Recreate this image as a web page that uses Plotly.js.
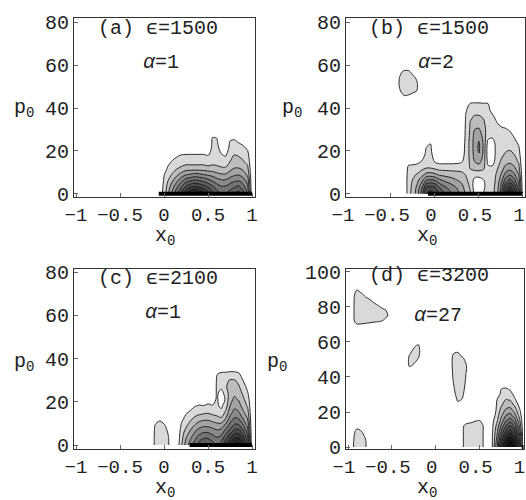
<!DOCTYPE html>
<html><head><meta charset="utf-8">
<script src="https://cdn.plot.ly/plotly-3.0.1.min.js"></script>
<style>body{margin:0;background:#fff}#c{width:526px;height:500px}</style>
</head><body><div id="c"></div>
<script>
// ---------- shared ----------
const xTickVals = [-1, -0.5, 0, 0.5, 1];
const xTickText = ["\u22121", "\u22120.5", "0", "0.5", "1"];
const yTicks80 = [0, 20, 40, 60, 80];
const yTicks100 = [0, 20, 40, 60, 80, 100];
const bandGrays = ['#d9d9d9','#bdbdbd','#a3a3a3','#8a8a8a','#737373','#5e5e5e','#4a4a4a','#383838','#282828','#1a1a1a','#0e0e0e','#050505'];

// ---------- panel (a): eps=1500, alpha=1 ----------
const aX = [-0.05,0,0.05,0.1,0.15,0.2,0.25,0.3,0.35,0.4,0.45,0.5,0.55,0.6,0.65,0.7,0.75,0.8,0.85,0.9,0.95,1.0];
const aP = [0,3,6,9,12,15,18,21,24,27,30];
const aZ = [
 [0.5,0.3,0,0,0,0,0,0,0,0,0],
 [1.3,1.25,1.15,0.95,0.6,0.2,0,0,0,0,0],
 [3,2.6,2.1,1.5,1.15,0.8,0.3,0,0,0,0],
 [4.5,3.8,3.0,2.2,1.5,1.1,0.7,0.1,0,0,0],
 [6,5,3.9,2.8,1.9,1.3,0.9,0.2,0,0,0],
 [7.5,6.2,4.8,3.4,2.2,1.5,1.05,0.3,0,0,0],
 [9,7.3,5.6,3.9,2.4,1.6,1.1,0.3,0,0,0],
 [10,8,6,4.1,2.4,1.6,1.1,0.3,0,0,0],
 [10.5,8.3,6.3,4.3,2.4,1.6,1.1,0.3,0,0,0],
 [10,8,6.1,4.2,2.4,1.6,1.1,0.3,0,0,0],
 [9.5,7.6,5.8,4.0,2.4,1.6,1.1,0.3,0,0,0],
 [8.5,7,5.4,3.8,2.3,1.4,0.95,0.3,0,0,0],
 [7.5,6.3,5,3.6,2.3,1.7,1.4,1.25,1.15,0.95,0],
 [6.5,5.6,4.5,3.3,2.2,1.7,1.45,1.3,1.15,0.9,0],
 [6,5.2,4.2,3.1,2.1,1.5,1.1,0.7,0.3,0,0],
 [6,5.2,4.2,3.1,2.1,1.4,0.9,0.4,0,0,0],
 [6.5,5.6,4.6,3.5,2.6,2.0,1.6,1.3,1.1,0.6,0],
 [7,6,4.9,3.8,3.0,2.4,2.05,1.6,1.2,0.7,0],
 [7.5,6.3,5,3.9,3.0,2.4,1.9,1.5,0.95,0.5,0],
 [6.5,5.5,4.5,3.5,2.7,2.1,1.6,1.2,0.8,0.2,0],
 [5,4.3,3.6,2.8,2.2,1.7,1.3,0.9,0.5,0,0],
 [0,0,0,0,0,0,0,0,0,0,0]
];
const barAX = [-0.06, 1.0];

// ---------- panel (b): eps=1500, alpha=2 ----------
const bX = [-0.35,-0.3,-0.25,-0.2,-0.15,-0.1,-0.05,0,0.05,0.1,0.15,0.2,0.25,0.3,0.35,0.4,0.45,0.5,0.55,0.6,0.65,0.7,0.75,0.8,0.85,0.9,0.95,1.0];
const bP = [0,3,6,9,12,15,18,21,24,27,30,33,36,39,42,45];
const bZ = [
 [0,0,0,0,0,0,0,0,0,0,0,0,0,0,0,0],
 [1.6,1.6,1.6,1.5,1.3,0.6,0,0,0,0,0,0,0,0,0,0],
 [2.4,2.3,2.1,1.8,1.3,0.7,0.2,0,0,0,0,0,0,0,0,0],
 [3.6,3.3,2.8,2.1,1.4,0.8,0.3,0,0,0,0,0,0,0,0,0],
 [5.5,4.8,3.8,2.6,1.7,1.05,0.6,0.2,0,0,0,0,0,0,0,0],
 [8,7,5.2,3.3,2.0,1.4,1.2,1.05,0.8,0.2,0,0,0,0,0,0],
 [8.5,7.4,5.4,3.4,2.0,1.5,1.3,1.15,0.95,0.3,0,0,0,0,0,0],
 [8,7,5.2,3.2,1.8,0.9,0.5,0.2,0,0,0,0,0,0,0,0],
 [7,6.0,4.4,2.8,1.6,0.7,0.2,0,0,0,0,0,0,0,0,0],
 [6.2,5.3,4.0,2.7,1.6,0.7,0.2,0,0,0,0,0,0,0,0,0],
 [5.6,4.8,3.7,2.6,1.6,0.7,0.2,0,0,0,0,0,0,0,0,0],
 [5,4.4,3.4,2.5,1.6,0.7,0.2,0,0,0,0,0,0,0,0,0],
 [4.4,3.9,3.1,2.4,1.6,0.75,0.3,0,0,0,0,0,0,0,0,0],
 [3.8,3.4,2.8,2.3,1.6,0.9,0.6,0.4,0.2,0,0,0,0,0,0,0],
 [2.8,2.6,2.3,1.95,1.6,1.3,1.25,1.25,1.25,1.2,1.15,1.1,1.05,0.9,0.4,0],
 [2.1,1.9,1.6,1.7,2.05,2.2,2.3,2.3,2.3,2.2,2.1,2.05,1.8,1.4,1.05,0.3],
 [0.8,0.5,0.7,1.3,2.4,3.0,3.3,3.4,3.4,3.3,3.0,2.6,2.1,1.6,1.1,0.4],
 [0.7,0.4,0.6,1.3,2.5,3.3,3.9,4.2,4.1,3.6,3.1,2.6,2.1,1.6,1.1,0.4],
 [1.05,0.8,0.9,1.4,2.2,2.6,2.8,2.9,2.85,2.7,2.5,2.2,1.9,1.4,1.05,0.4],
 [1.5,1.4,1.4,1.4,1.2,0.8,0.55,0.5,0.8,1.3,1.5,1.5,1.4,1.2,1.05,0.4],
 [1.7,1.7,1.6,1.5,1.2,0.6,0.4,0.35,0.6,1.2,1.4,1.3,1.15,0.8,0.4,0],
 [2.4,2.3,2.2,2.1,1.8,1.4,1.3,1.3,1.3,1.3,1.2,1.05,0.8,0.4,0,0],
 [4.5,4.2,3.6,3.0,2.5,2.1,1.8,1.6,1.5,1.35,1.15,0.8,0.2,0,0,0],
 [8,7,5.5,4.3,3.3,2.6,2.15,1.8,1.6,1.4,1.1,0.6,0,0,0,0],
 [10,8.5,6.5,4.8,3.6,2.8,2.3,1.9,1.6,1.3,0.9,0.3,0,0,0,0],
 [8,7,5.5,4.2,3.2,2.5,2.05,1.6,1.3,0.9,0.4,0,0,0,0,0],
 [5,4.5,3.8,3.0,2.4,1.9,1.5,1.2,0.8,0.3,0,0,0,0,0,0],
 [0,0,0,0,0,0,0,0,0,0,0,0,0,0,0,0]
];
const bbX = [-0.45,-0.4,-0.35,-0.3,-0.25,-0.2,-0.15];
const bbP = [42,45,48,51,54,57,60];
const bbZ = [
 [0,0,0,0,0,0,0],
 [0,0,0.9,1.2,1.1,0.7,0],
 [0,0.8,1.5,1.7,1.6,1.2,0],
 [0,0.7,1.5,1.8,1.6,1.2,0],
 [0,0.3,1.3,1.5,1.3,0.6,0],
 [0,0,0.95,1.05,0.8,0,0],
 [0,0,0,0,0,0,0]
];
const barBX = [-0.08, 1.0];

// ---------- panel (c): eps=2100, alpha=1 ----------
const cX = [0.15,0.2,0.25,0.3,0.35,0.4,0.45,0.5,0.55,0.6,0.65,0.7,0.75,0.8,0.85,0.9,0.95,1.0];
const cP = [0,3,6,9,12,15,18,21,24,27,30,33,36];
const cZ = [
 [0.4,0.3,0.2,0,0,0,0,0,0,0,0,0,0],
 [1.9,1.7,1.5,1.2,0.8,0.4,0,0,0,0,0,0,0],
 [3.5,3,2.4,1.8,1.3,0.9,0.4,0,0,0,0,0,0],
 [4.5,3.9,3.2,2.5,1.8,1.15,0.7,0.2,0,0,0,0,0],
 [5.5,4.8,4.0,3.1,2.3,1.5,0.95,0.4,0,0,0,0,0],
 [6.5,5.6,4.6,3.6,2.6,1.7,1.1,0.5,0,0,0,0,0],
 [7,6,4.9,3.8,2.8,1.8,1.05,0.3,0,0,0,0,0],
 [7,6,4.9,3.8,2.8,1.9,1.2,0.6,0,0,0,0,0],
 [6.5,5.6,4.6,3.6,2.6,1.7,1.1,0.5,0,0,0,0,0],
 [6,5.2,4.3,3.4,2.4,1.6,1.2,1.15,1.15,1.15,1.1,0.95,0.3],
 [6.5,5.5,4.5,3.5,2.2,1.3,0.8,0.5,0.7,1.2,1.4,1.15,0.3],
 [8,6.8,5.5,4.3,3.1,2.2,1.5,1.1,1.3,1.9,1.8,1.2,0.3],
 [9.5,8,6.6,5.4,4.4,3.6,3.0,2.7,2.5,2.3,2.05,1.3,0.3],
 [10.5,9,7.5,6.2,5.2,4.4,3.7,3.2,2.8,2.4,2.05,1.3,0.3],
 [10.5,9.2,7.6,6.2,5.0,4.1,3.4,2.9,2.5,2.1,1.7,1.1,0.2],
 [9,7.8,6.4,5.1,4.0,3.2,2.6,2.2,1.8,1.4,0.95,0.5,0],
 [6,5.3,4.5,3.7,3.0,2.4,1.9,1.5,1.1,0.7,0.3,0,0],
 [0,0,0,0,0,0,0,0,0,0,0,0,0]
];
const cbX = [-0.15,-0.1,-0.05,0,0.05,0.1];
const cbP = [0,3,6,9,12,15];
const cbZ = [
 [0,0,0,0,0,0],
 [1.3,1.3,1.25,1.1,0.5,0],
 [1.6,1.6,1.5,1.35,0.85,0],
 [1.5,1.5,1.4,1.15,0.5,0],
 [1.1,1.05,0.9,0.6,0,0],
 [0,0,0,0,0,0]
];
const barCX = [0.29, 1.0];

// ---------- panel (d): eps=3200, alpha=27 ----------
const dX = [0.6,0.65,0.7,0.75,0.8,0.85,0.9,0.95,1.0];
const dP = [0,3,6,9,12,15,18,21,24,27,30,33,36];
const dZ = [
 [0,0,0,0,0,0,0,0,0,0,0,0,0],
 [1.1,1.1,1.1,1.05,0.95,0.8,0.4,0,0,0,0,0,0],
 [4,3.6,3.2,2.8,2.4,1.9,1.6,1.35,1.2,1.05,0.6,0.2,0],
 [8,7.2,6.2,5.2,4.3,3.5,2.9,2.4,1.9,1.5,1.25,1.05,0.4],
 [11,10,8.7,7.3,6,4.9,4.0,3.2,2.5,2.05,1.5,1.15,0.5],
 [12.5,11.5,10,8.5,7,5.6,4.4,3.4,2.6,1.9,1.4,0.9,0.2],
 [11,10,8.6,7.2,5.8,4.5,3.4,2.6,1.8,1.2,0.7,0.2,0],
 [6,5.5,4.8,4,3.2,2.5,1.8,1.3,0.8,0.3,0,0,0],
 [0,0,0,0,0,0,0,0,0,0,0,0,0]
];
const d1X = [-1.0,-0.95,-0.9,-0.85,-0.8,-0.75,-0.7,-0.65,-0.6,-0.55,-0.5];
const d1P = [66,69,72,75,78,81,84,87,90,93];
const d1Z = [
 [0,0,0,0,0,0,0,0,0,0],
 [0,0.2,0.6,0.65,0.65,0.65,0.65,0.6,0.3,0],
 [0,0.6,1.5,1.6,1.6,1.6,1.55,1.4,0.95,0],
 [0,0.6,1.5,1.6,1.6,1.6,1.5,1.2,0.6,0],
 [0,0.5,1.4,1.6,1.6,1.5,1.3,0.8,0,0],
 [0,0.4,1.3,1.6,1.6,1.4,1.05,0.4,0,0],
 [0,0.3,1.2,1.5,1.5,1.2,0.7,0,0,0],
 [0,0.3,1.1,1.4,1.35,0.95,0.4,0,0,0],
 [0,0.2,0.95,1.3,1.2,0.6,0,0,0,0],
 [0,0,0.5,1.05,0.9,0,0,0,0,0],
 [0,0,0,0,0,0,0,0,0,0]
];
const d2X = [-0.35,-0.3,-0.25,-0.2,-0.15];
const d2P = [43,46,49,52,55,58,61];
const d2Z = [
 [0,0,0,0,0,0,0],
 [0,1.05,1.3,1.1,0.5,0,0],
 [0,0.6,1.4,1.5,1.3,0.7,0],
 [0,0,0.6,1.3,1.5,1.2,0],
 [0,0,0,0,0,0,0]
];
const d3X = [0.15,0.2,0.25,0.3,0.35,0.4];
const d3P = [21,24,27,30,33,36,39,42,45,48,51,54,57];
const d3Z = [
 [0,0,0,0,0,0,0,0,0,0,0,0,0],
 [0,0,0,0.5,0.8,0.95,1.1,1.2,1.3,1.35,1.3,0.9,0],
 [0,0.6,1.2,1.5,1.6,1.6,1.6,1.6,1.6,1.6,1.5,1.05,0],
 [0,0.3,0.95,1.3,1.4,1.4,1.4,1.4,1.4,1.3,1.1,0.4,0],
 [0,0,0,0.3,0.6,0.8,0.9,0.95,1.05,0.95,0.7,0,0],
 [0,0,0,0,0,0,0,0,0,0,0,0,0]
];
const d4X = [-1.0,-0.95,-0.9,-0.85,-0.8,-0.75];
const d4P = [0,3,6,9,12];
const d4Z = [
 [0,0,0,0,0],
 [0.8,0.8,0.75,0.5,0],
 [1.5,1.5,1.4,1.3,0.6],
 [1.4,1.4,1.3,1.05,0],
 [1.1,1.1,0.9,0.4,0],
 [0,0,0,0,0]
];
const d5X = [0.25,0.3,0.35,0.4,0.45,0.5,0.55,0.6];
const d5P = [0,3,6,9,12,15,18];
const d5Z = [
 [0,0,0,0,0,0,0],
 [0.8,0.8,0.8,0.8,0.75,0.3,0],
 [1.5,1.5,1.5,1.5,1.4,0.5,0],
 [1.5,1.5,1.5,1.5,1.45,0.7,0],
 [1.5,1.5,1.5,1.5,1.5,0.95,0],
 [1.4,1.4,1.4,1.4,1.4,1.05,0.3],
 [0.9,0.9,0.9,0.9,0.9,0.6,0],
 [0,0,0,0,0,0,0]
];
const barDX = [0.98, 1.0];
const barY = [0, 0];

// ---------- build ----------
const nLev = bandGrays.length;
const colorscale = [[0, 'rgba(255,255,255,0)']].concat(bandGrays.map((g, i) => [(i + 1) / nLev, g]));

function contour(x, p, z, xa, ya) {
  return {
    type: 'contour', x: x, y: p, z: z, transpose: true, xaxis: xa, yaxis: ya,
    autocontour: false,
    contours: { start: 1, end: nLev, size: 1, coloring: 'fill', showlines: true },
    colorscale: colorscale, showscale: false,
    line: { color: '#1a1a1a', width: 0.9, smoothing: 1 },
    hoverinfo: 'skip'
  };
}
function bar(x, xa, ya) {
  return { type: 'scatter', mode: 'lines', x: x, y: barY, xaxis: xa, yaxis: ya,
    line: { color: '#000', width: 4 }, hoverinfo: 'skip' };
}

const traces = [
  contour(aX, aP, aZ, 'x', 'y'), bar(barAX, 'x', 'y'),
  contour(bX, bP, bZ, 'x2', 'y2'), contour(bbX, bbP, bbZ, 'x2', 'y2'), bar(barBX, 'x2', 'y2'),
  contour(cX, cP, cZ, 'x3', 'y3'), contour(cbX, cbP, cbZ, 'x3', 'y3'), bar(barCX, 'x3', 'y3'),
  contour(dX, dP, dZ, 'x4', 'y4'), contour(d1X, d1P, d1Z, 'x4', 'y4'), contour(d2X, d2P, d2Z, 'x4', 'y4'),
  contour(d3X, d3P, d3Z, 'x4', 'y4'), contour(d4X, d4P, d4Z, 'x4', 'y4'), contour(d5X, d5P, d5Z, 'x4', 'y4'),
  bar(barDX, 'x4', 'y4')
];

const W = 526, H = 500;
const FONT = 'Liberation Mono, Courier New, monospace';
function xpx(a, b) { return [a / W, b / W]; }
function ypx(top, bot) { return [1 - bot / H, 1 - top / H]; }
function xaxis(dom, rng, anchor, shift) {
  return { domain: dom, range: rng, anchor: anchor, tickvals: xTickVals, ticktext: xTickText,
    tickangle: 0, ticks: 'inside', ticklen: 4, tickcolor: '#666', showgrid: false, zeroline: false,
    showline: true, mirror: true, linecolor: '#333', linewidth: 1, ticklabeloverflow: 'allow',
    ticklabelshift: shift || 0,
    tickfont: { family: FONT, size: 19, color: '#222' } };
}
function yaxis(dom, rng, anchor, tv) {
  return { domain: dom, range: rng, anchor: anchor, tickvals: tv, ticktext: tv.map(String),
    ticks: 'inside', ticklen: 4, tickcolor: '#666', showgrid: false, zeroline: false,
    showline: true, mirror: true, linecolor: '#333', linewidth: 1, ticklabeloverflow: 'allow',
    tickfont: { family: FONT, size: 20, color: '#222' } };
}
function ann(text, px, py, size) {
  return { text: text, x: px / W, y: 1 - py / H, xref: 'paper', yref: 'paper',
    showarrow: false, xanchor: 'center', yanchor: 'middle',
    font: { family: FONT, size: size || 20, color: '#222' } };
}

const layout = {
  width: W, height: H, margin: { l: 0, r: 0, t: 0, b: 0 },
  paper_bgcolor: '#fff', plot_bgcolor: '#fff', showlegend: false,
  xaxis: xaxis(xpx(74, 255), [-1.023, 1.034], 'y'),
  yaxis: yaxis(ypx(18, 197), [-1.5, 82], 'x', yTicks80),
  xaxis2: xaxis(xpx(346, 525), [-1.011, 1.023], 'y2', -4),
  yaxis2: yaxis(ypx(18, 197), [-1.5, 82], 'x2', yTicks80),
  xaxis3: xaxis(xpx(74, 255), [-1.023, 1.034], 'y3'),
  yaxis3: yaxis(ypx(269, 449), [-1.85, 81.4], 'x3', yTicks80),
  xaxis4: xaxis(xpx(346, 524), [-1.023, 1.006], 'y4', -4),
  yaxis4: yaxis(ypx(269, 449), [-1.14, 101.7], 'x4', yTicks100),
  annotations: [
    ann('(a) \u03f5=1500', 158, 28), ann('<i>\u03b1</i>=1', 161, 62),
    ann('(b) \u03f5=1500', 429, 28), ann('<i>\u03b1</i>=2', 436, 62),
    ann('(c) \u03f5=2100', 158, 278), ann('<i>\u03b1</i>=1', 163, 312),
    ann('(d) \u03f5=3200', 429, 275), ann('<i>\u03b1</i>=27', 438, 315),
    ann('x<sub>0</sub>', 165, 236), ann('x<sub>0</sub>', 427, 236),
    ann('x<sub>0</sub>', 165, 488), ann('x<sub>0</sub>', 427, 488),
    ann('p<sub>0</sub>', 24, 109), ann('p<sub>0</sub>', 292, 109),
    ann('p<sub>0</sub>', 24, 362), ann('p<sub>0</sub>', 277, 362)
  ]
};

Plotly.newPlot('c', traces, layout, { staticPlot: true, displayModeBar: false });
</script>
</body></html>
